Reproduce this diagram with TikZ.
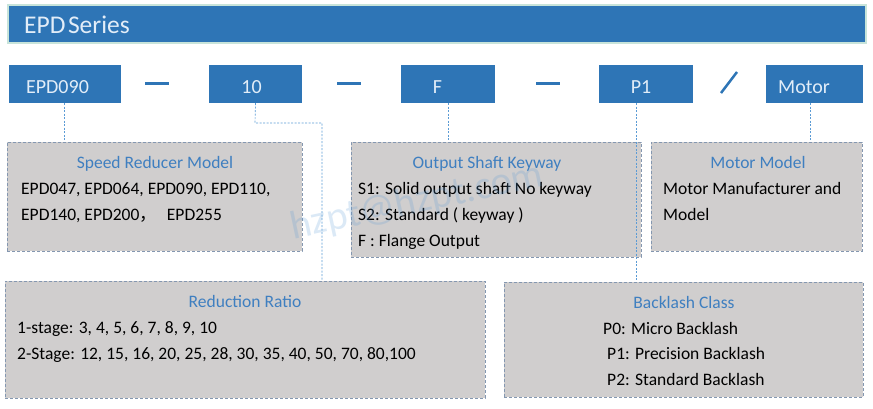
\documentclass[tikz,border=0pt]{standalone}
\usepackage{fontspec}
\setmainfont{Carlito}
\newfontfamily\cjk{Noto Sans CJK SC}
\definecolor{mblue}{HTML}{2E75B6}
\definecolor{tblue}{HTML}{3F7FC0}
\definecolor{lbl}{HTML}{E2EDF8}
\definecolor{barborder}{HTML}{C8E4DA}
\definecolor{gfill}{HTML}{D0CECE}
\definecolor{gborder}{HTML}{8497B0}
\definecolor{cblue}{HTML}{5B9BD5}
\tikzset{
  bluebox/.style={fill=mblue, draw=none, minimum height=38pt, inner sep=0pt},
  grbox/.style={fill=gfill, draw=gborder, line width=0.8pt, dash pattern=on 3pt off 2pt, inner sep=0pt},
  boxlabel/.style={text=lbl, font=\fontsize{20}{24}\selectfont, anchor=base, inner sep=0pt},
  gtitle/.style={text=tblue, font=\fontsize{17.5}{21}\selectfont, anchor=base, inner sep=0pt},
  gline/.style={text=black, font=\fontsize{17.5}{21}\selectfont, anchor=base west, inner sep=0pt},
  conn/.style={draw=cblue, line width=0.7pt, dash pattern=on 2pt off 1.5pt},
  sep/.style={draw=mblue, line width=3pt},
}
\begin{document}
\begin{tikzpicture}[x=1pt,y=-1pt]
\useasboundingbox (0,0) rectangle (873,408);
% title bar
\node[fill=mblue, draw=barborder, line width=2pt, minimum width=858pt, minimum height=38pt, inner sep=0pt] (bar) at (437,24) {};
\node[text=lbl, font=\fontsize{25.5}{30}\selectfont, anchor=base west, inner sep=0pt] (bartext) at (24,33) {EPD\kern2.5pt Series};
% code boxes
\node[bluebox, minimum width=112pt] (b1) at (65,84) {};
\node[bluebox, minimum width=93pt] (b2) at (255.5,84) {};
\node[bluebox, minimum width=94pt] (b3) at (448,84) {};
\node[bluebox, minimum width=94pt] (b4) at (646,84) {};
\node[bluebox, minimum width=97pt] (b5) at (814.5,84) {};
\node[boxlabel] (l1) at (57.5,93) {EPD090};
\node[boxlabel] (l2) at (251.5,93) {10};
\node[boxlabel] (l3) at (437.5,93) {F};
\node[boxlabel] (l4) at (641,93) {P1};
\node[boxlabel] (l5) at (804,93) {Motor};
% separators
\coordinate (s1a) at (145,83); \coordinate (s1b) at (169,83);
\coordinate (s2a) at (337,83); \coordinate (s2b) at (361,83);
\coordinate (s3a) at (536,83); \coordinate (s3b) at (560,83);
\coordinate (s4a) at (721,93); \coordinate (s4b) at (737,72);
\draw[sep] (s1a) -- (s1b);
\draw[sep] (s2a) -- (s2b);
\draw[sep] (s3a) -- (s3b);
\draw[draw=mblue, line width=2.5pt] (s4a) -- (s4b);
% gray boxes
\node[grbox, minimum width=295pt, minimum height=109pt] (g1) at (154.5,196.5) {};
\node[grbox, minimum width=290pt, minimum height=115pt] (g2) at (496,199.5) {};
\node[grbox, minimum width=211pt, minimum height=109pt] (g3) at (756.5,196.5) {};
\node[grbox, minimum width=480pt, minimum height=117pt] (g4) at (245,339.5) {};
\node[grbox, minimum width=359pt, minimum height=115pt] (g5) at (683.5,339.5) {};
% connectors
\draw[conn] (b1.south -| 64,0) -- (g1.north -| 64,0);
\coordinate (k1) at (255,123);
\coordinate (k2) at (322,123);
\draw[conn] (b2.south) -- (k1) -- (k2) -- (g4.north -| k2);
\draw[conn] (b3.south) -- (g2.north -| b3.south);
\draw[conn] (b4.south -| 636,0) -- (g5.north -| 636,0);
\draw[conn] (b5.south -| 810,0) -- (g3.north -| 810,0);
% texts: speed reducer
\node[gtitle] (t1) at (155,168) {Speed Reducer Model};
\node[gline] (t1a) at (21,194) {EPD047, EPD064, EPD090, EPD110,};
\node[gline] (t1b) at (21,220) {EPD140, EPD200{\cjk ，}\hspace{10pt}EPD255};
% output shaft
\node[gtitle] (t2) at (487,168) {Output Shaft Keyway};
\node[gline] (t2a) at (358,194) {S1: Solid output shaft No keyway};
\node[gline] (t2b) at (358,220) {S2: Standard ( keyway )};
\node[gline] (t2c) at (358,246) {F : Flange Output};
% motor
\node[gtitle] (t3) at (758,168) {Motor Model};
\node[gline] (t3a) at (663,194) {Motor Manufacturer and};
\node[gline] (t3b) at (663,220) {Model};
% reduction ratio
\node[gtitle] (t4) at (245,307) {Reduction Ratio};
\node[gline] (t4a) at (17,333) {1-stage: 3, 4, 5, 6, 7, 8, 9, 10};
\node[gline] (t4b) at (17,359) {2-Stage: 12, 15, 16, 20, 25, 28, 30, 35, 40, 50, 70, 80,100};
% backlash
\node[gtitle] (t5) at (684,308) {Backlash Class};
\node[gline] (t5a) at (603,334) {P0: Micro Backlash};
\node[gline] (t5b) at (607,359) {P1: Precision Backlash};
\node[gline] (t5c) at (607,385) {P2: Standard Backlash};
% watermark
\node[text=cblue, text opacity=0.22, font=\fontsize{40}{48}\selectfont, rotate=12, inner sep=0pt] (wm) at (417,202) {hzpt@hzpt.com};
\end{tikzpicture}
\end{document}
